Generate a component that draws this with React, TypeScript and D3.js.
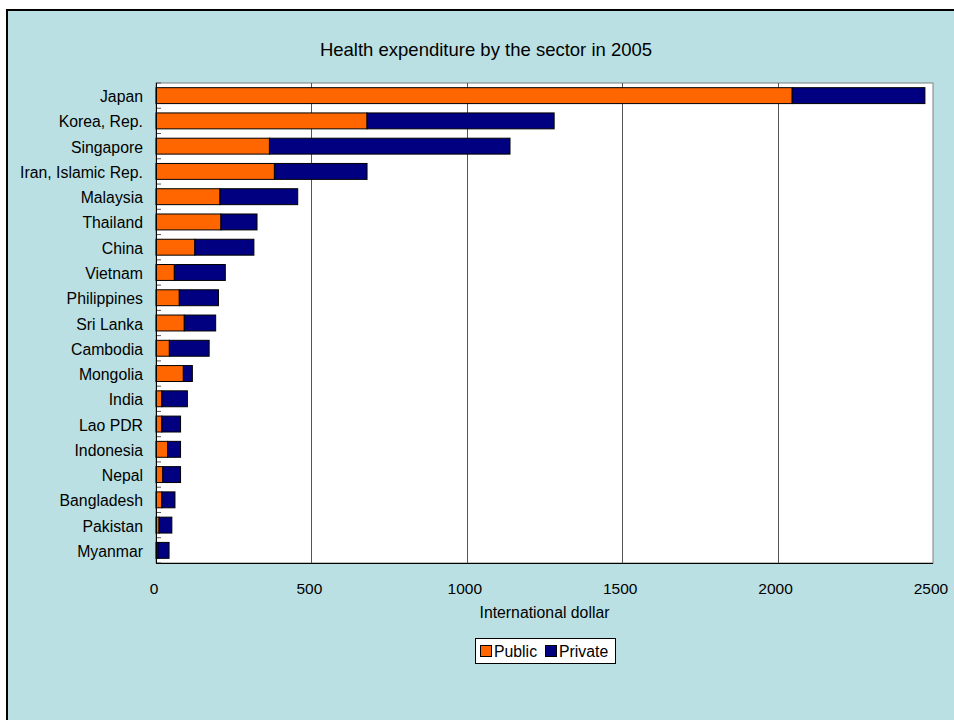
import React from "react";
import * as d3 from "d3";

const countries = [
  "Japan", "Korea, Rep.", "Singapore", "Iran, Islamic Rep.", "Malaysia", "Thailand", "China",
  "Vietnam", "Philippines", "Sri Lanka", "Cambodia", "Mongolia", "India", "Lao PDR",
  "Indonesia", "Nepal", "Bangladesh", "Pakistan", "Myanmar",
];
const publicSpend = [2047, 679, 365, 381, 206, 209, 125, 59, 75, 91, 43, 88, 19, 19, 37, 22, 19, 10, 6];
const privateSpend = [427, 602, 774, 298, 250, 116, 190, 164, 126, 101, 128, 29, 82, 60, 42, 57, 42, 41, 36];
const xTicks = [0, 500, 1000, 1500, 2000, 2500];
const seriesNames = ["Public", "Private"];
const seriesColors = ["#FF6600", "#000080"];

const W = 954;
const H = 720;
const plot = { left: 156, right: 933, top: 83, bottom: 563 };
const FONT = "'Liberation Sans', Arial, sans-serif";

export default function App() {
  const x = d3.scaleLinear().domain([0, 2500]).range([plot.left, plot.right]);
  const y = d3
    .scaleBand<string>()
    .domain(countries)
    .range([plot.top, plot.bottom])
    .paddingInner(0.37)
    .paddingOuter(0.185);
  const boundaries = d3.range(countries.length + 1).map((i) => plot.top + i * (plot.bottom - plot.top) / countries.length);

  const rows = countries.map((c, i) => ({ c, pub: publicSpend[i], pri: privateSpend[i] }));

  return (
    <svg width={W} height={H} style={{ position: "absolute", left: 0, top: 0 }} fontFamily={FONT}>
      <rect x={0} y={0} width={W} height={H} fill="#ffffff" />
      <rect x={7} y={10} width={970} height={730} fill="#BBE0E3" stroke="#000" strokeWidth={2} />
      <text x={486} y={56} textAnchor="middle" fontSize={18.5} fill="#000">
        Health expenditure by the sector in 2005
      </text>
      {/* plot area */}
      <rect x={plot.left} y={plot.top} width={plot.right - plot.left} height={plot.bottom - plot.top} fill="#fff" stroke="#808080" strokeWidth={1} />
      {xTicks.slice(1, -1).map((t) => (
        <line key={t} x1={Math.round(x(t)) + 0.5} x2={Math.round(x(t)) + 0.5} y1={plot.top} y2={plot.bottom} stroke="#555" strokeWidth={1} />
      ))}
      {/* bars */}
      {rows.map((r) => (
        <g key={r.c}>
          <rect x={x(0)} y={y(r.c)!} width={x(r.pub) - x(0)} height={y.bandwidth()} fill={seriesColors[0]} stroke="#000" strokeWidth={1} />
          <rect x={x(r.pub)} y={y(r.c)!} width={x(r.pub + r.pri) - x(r.pub)} height={y.bandwidth()} fill={seriesColors[1]} stroke="#000" strokeWidth={1} />
        </g>
      ))}
      {/* y axis ticks */}
      {boundaries.map((b, i) => (
        <line key={i} x1={plot.left} x2={plot.left + 5} y1={b} y2={b} stroke="#555" strokeWidth={1} />
      ))}
      <line x1={plot.left + 0.5} x2={plot.left + 0.5} y1={plot.top} y2={plot.bottom} stroke="#000" strokeWidth={1} />
      <line x1={plot.left} x2={plot.right} y1={plot.bottom + 0.5} y2={plot.bottom + 0.5} stroke="#000" strokeWidth={1} />
      {/* category labels */}
      {countries.map((c) => (
        <text key={c} x={143} y={y(c)! + y.bandwidth() / 2 + 1} dy="0.35em" textAnchor="end" fontSize={15.8} fill="#000">
          {c}
        </text>
      ))}
      {/* x tick labels */}
      {xTicks.map((t) => (
        <text key={t} x={x(t) - 2} y={594} textAnchor="middle" fontSize={15.5} fill="#000">
          {t}
        </text>
      ))}
      <text x={(plot.left + plot.right) / 2} y={618} textAnchor="middle" fontSize={15.8} fill="#000">
        International dollar
      </text>
      {/* legend */}
      <g>
        <rect x={475.5} y={638.5} width={140} height={25} fill="#fff" stroke="#000" strokeWidth={1} />
        {seriesNames.map((s, i) => {
          const lx = i === 0 ? 480 : 545;
          return (
            <g key={s}>
              <rect x={lx + 0.5} y={645.5} width={11} height={11} fill={seriesColors[i]} stroke="#000" strokeWidth={1} />
              <text x={lx + 14} y={656.5} fontSize={15.8} fill="#000">{s}</text>
            </g>
          );
        })}
      </g>
    </svg>
  );
}
